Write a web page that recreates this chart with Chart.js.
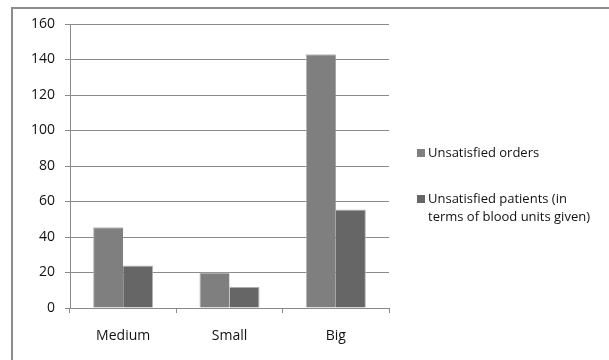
<!DOCTYPE html>
<html>
<head>
<meta charset="utf-8">
<script src="https://cdn.jsdelivr.net/npm/chart.js@4/dist/chart.umd.min.js"></script>
<style>
  html, body { margin: 0; padding: 0; background: #ffffff; }
  #wrap { width: 609px; height: 360px; position: relative; }
</style>
</head>
<body>
<div id="wrap"><canvas id="c" width="609" height="360"></canvas></div>
<script>
// Hospital size categories and unsatisfied demand per category
const categories = ['Medium', 'Small', 'Big'];
const unsatisfiedOrders = [45.5, 20, 143];
const unsatisfiedPatients = [24, 12, 55.5];
const seriesLabels = [
  'Unsatisfied orders',
  ['Unsatisfied patients (in', 'terms of blood units given)']
];
const yTicks = { min: 0, max: 160, step: 20 };

const FONT = "'Open Sans', 'DejaVu Sans', sans-serif";
const GRID = '#8a8a8a';
const TEXT = '#111111';

// Outer frame and side legend drawn onto the canvas
const framePlugin = {
  id: 'frameAndLegend',
  beforeDraw(chart) {
    const ctx = chart.ctx;
    ctx.save();
    ctx.fillStyle = '#ffffff';
    ctx.fillRect(0, 0, chart.width, chart.height);
    ctx.strokeStyle = '#8c8c8c';
    ctx.lineWidth = 2;
    ctx.strokeRect(12, 8, chart.width + 20, chart.height + 20);
    ctx.restore();
  },
  afterDraw(chart) {
    const ctx = chart.ctx;
    ctx.save();
    ctx.font = '13px ' + FONT;
    ctx.textBaseline = 'middle';
    ctx.textAlign = 'left';
    const rows = [153, 199];
    chart.data.datasets.forEach((ds, i) => {
      const y = rows[i];
      ctx.fillStyle = ds.backgroundColor;
      ctx.fillRect(417, y - 4, 8, 8);
      ctx.fillStyle = TEXT;
      const lines = Array.isArray(ds.label) ? ds.label : [ds.label];
      lines.forEach((t, k) => ctx.fillText(t, 428, y + k * 18));
    });
    ctx.restore();
  }
};

new Chart(document.getElementById('c'), {
  type: 'bar',
  data: {
    labels: categories,
    datasets: [
      {
        label: seriesLabels[0],
        data: unsatisfiedOrders,
        backgroundColor: '#7f7f7f',
        borderColor: '#b8b8b8',
        borderWidth: { top: 1, left: 1, right: 0, bottom: 0 },
        categoryPercentage: 0.565,
        barPercentage: 1.0
      },
      {
        label: seriesLabels[1],
        data: unsatisfiedPatients,
        backgroundColor: '#666666',
        borderColor: '#b8b8b8',
        borderWidth: { top: 1, left: 0, right: 1, bottom: 0 },
        categoryPercentage: 0.565,
        barPercentage: 1.0
      }
    ]
  },
  options: {
    responsive: false,
    animation: false,
    layout: { padding: { top: 24, left: 0, right: 220, bottom: 0 } },
    plugins: {
      legend: { display: false },
      tooltip: { enabled: false }
    },
    scales: {
      x: {
        afterFit(scale) { scale.height = 52; },
        grid: {
          display: true,
          drawOnChartArea: false,
          drawTicks: true,
          tickLength: 5,
          color: GRID,
          offset: true
        },
        border: { display: true, color: GRID, width: 1 },
        ticks: {
          color: TEXT,
          font: { family: FONT, size: 14 },
          padding: 15
        }
      },
      y: {
        min: yTicks.min,
        max: yTicks.max,
        afterFit(scale) { scale.width = 70; },
        grid: {
          color: GRID,
          drawTicks: true,
          tickLength: 5
        },
        border: { display: true, color: GRID, width: 1 },
        ticks: {
          stepSize: yTicks.step,
          color: TEXT,
          font: { family: FONT, size: 14 },
          padding: 10
        }
      }
    }
  },
  plugins: [framePlugin]
});
</script>
</body>
</html>
